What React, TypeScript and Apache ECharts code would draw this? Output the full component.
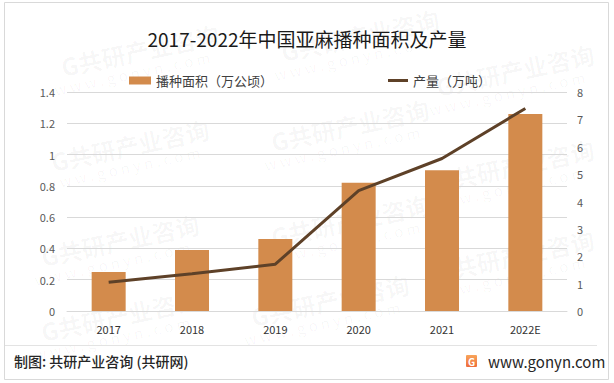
import React, { useEffect, useRef } from "react";
import * as echarts from "echarts";

const categories = ["2017", "2018", "2019", "2020", "2021", "2022E"];
const areaValues = [0.25, 0.39, 0.46, 0.82, 0.9, 1.26];
const outputValues = [1.05, 1.36, 1.71, 4.4, 5.57, 7.4];
const leftTicks = { min: 0, max: 1.4, interval: 0.2 };
const rightTicks = { min: 0, max: 8, interval: 1 };
const titleText = "2017-2022年中国亚麻播种面积及产量";
const areaName = "播种面积（万公顷）";
const outputName = "产量（万吨）";
const footerLeft = "制图: 共研产业咨询 (共研网)";
const footerRight = "www.gonyn.com";

const FONT = "'Noto Sans CJK SC', 'Noto Sans', sans-serif";

const watermarkPositions = [
  [140, 50], [360, 35], [515, 70], [130, 145], [350, 125], [515, 165],
  [120, 240], [350, 220], [515, 255], [330, 300], [120, 315],
];

export default function App() {
  const ref = useRef<HTMLDivElement>(null);
  useEffect(() => {
    if (!ref.current) return;
    const chart = echarts.init(ref.current, undefined, { renderer: "svg" });
    const watermarks: any[] = [];
    watermarkPositions.forEach(([x, y]) => {
      watermarks.push({
        type: "text",
        x,
        y,
        rotation: (12 * Math.PI) / 180,
        z: -10,
        style: {
          text: "G共研产业咨询",
          fill: "rgba(0,0,0,0.035)",
          font: `bold 24px ${FONT}`,
          textAlign: "center",
          textVerticalAlign: "middle",
        },
        silent: true,
      });
      watermarks.push({
        type: "text",
        x: x - 8,
        y: y + 23,
        rotation: (12 * Math.PI) / 180,
        z: -10,
        style: {
          text: "w w w . g o n y n . c o m",
          fill: "rgba(0,0,0,0.035)",
          font: `15px ${FONT}`,
          textAlign: "center",
          textVerticalAlign: "middle",
        },
        silent: true,
      });
    });
    chart.setOption({
      animation: false,
      backgroundColor: "#ffffff",
      title: {
        text: titleText,
        left: "center",
        top: 24,
        textStyle: { fontFamily: FONT, fontSize: 19, fontWeight: "normal", color: "#1a1a1a" },
      },
      legend: [
        {
          data: [{ name: areaName, icon: "rect" }],
          left: 124,
          top: 69,
          itemWidth: 22,
          itemHeight: 8,
          itemGap: 4,
          textStyle: { fontFamily: FONT, fontSize: 13, color: "#404040" },
        },
        {
          data: [{ name: outputName, icon: "rect" }],
          left: 383,
          top: 69,
          itemWidth: 20,
          itemHeight: 3,
          textStyle: { fontFamily: FONT, fontSize: 13, color: "#404040" },
        },
      ],
      grid: { left: 67, right: 47, top: 92, bottom: 72, containLabel: false },
      xAxis: {
        type: "category",
        data: categories,
        axisLine: { show: true, lineStyle: { color: "#d9d9d9" } },
        axisTick: { show: false },
        axisLabel: { fontFamily: FONT, fontSize: 11, color: "#333333", margin: 12 },
      },
      yAxis: [
        {
          type: "value",
          ...leftTicks,
          axisLine: { show: false },
          axisTick: { show: false },
          splitLine: { lineStyle: { color: "#d9d9d9" } },
          axisLabel: { fontFamily: FONT, fontSize: 11, color: "#595959", margin: 12 },
        },
        {
          type: "value",
          ...rightTicks,
          axisLine: { show: false },
          axisTick: { show: false },
          splitLine: { show: false },
          axisLabel: { fontFamily: FONT, fontSize: 11, color: "#595959", margin: 10 },
        },
      ],
      series: [
        {
          name: areaName,
          type: "bar",
          data: areaValues,
          barWidth: 34,
          itemStyle: { color: "#D38B4C" },
          yAxisIndex: 0,
        },
        {
          name: outputName,
          type: "line",
          data: outputValues,
          yAxisIndex: 1,
          symbol: "none",
          lineStyle: { color: "#5E4128", width: 3 },
          itemStyle: { color: "#5E4128" },
        },
      ],
      graphic: [
        ...watermarks,
        {
          type: "rect",
          shape: { x: 4.5, y: 2.5, width: 604, height: 377 },
          style: { fill: "none", stroke: "#d9d9d9", lineWidth: 1 },
          silent: true,
        },
        {
          type: "line",
          shape: { x1: 5, y1: 345.5, x2: 597, y2: 345.5 },
          style: { stroke: "#e3e3e3", lineWidth: 1 },
          silent: true,
        },
        {
          type: "text",
          x: 14,
          y: 361,
          style: {
            text: footerLeft,
            font: `500 14px ${FONT}`,
            fill: "#262626",
            textVerticalAlign: "middle",
          },
        },
        {
          type: "rect",
          shape: { x: 466, y: 355, width: 11, height: 12, r: 1 },
          style: {
            fill: new echarts.graphic.LinearGradient(0, 0, 0, 1, [
              { offset: 0, color: "#F8A55A" },
              { offset: 1, color: "#EE6B3B" },
            ]),
          },
        },
        {
          type: "text",
          x: 471.5,
          y: 361.5,
          style: {
            text: "G",
            font: `bold 10px ${FONT}`,
            fill: "#ffffff",
            textAlign: "center",
            textVerticalAlign: "middle",
          },
        },
        {
          type: "text",
          x: 488,
          y: 361,
          style: {
            text: footerRight,
            font: `15px ${FONT}`,
            fill: "#262626",
            textVerticalAlign: "middle",
          },
        },
      ],
    });
    return () => chart.dispose();
  }, []);
  return (
    <div
      ref={ref}
      style={{ position: "fixed", left: 0, top: 0, width: 614, height: 383 }}
    />
  );
}
